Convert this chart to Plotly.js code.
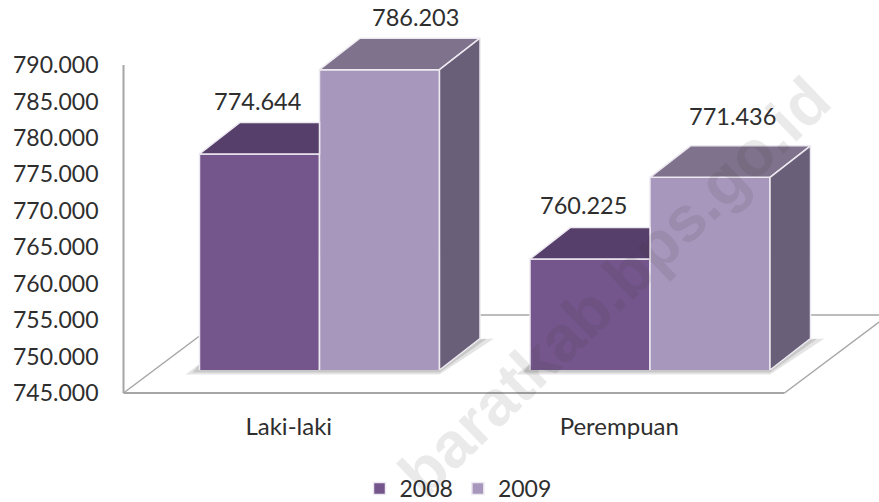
<!DOCTYPE html>
<html><head><meta charset="utf-8">
<script src="https://cdn.plot.ly/plotly-3.0.1.min.js"></script>
<style>html,body{margin:0;padding:0;background:#fff;overflow:hidden}</style></head>
<body><div id="chart" style="width:879px;height:502px"></div>
<script>
const categories = ['Laki-laki', 'Perempuan'];
const series2008 = [774.644, 760.225];
const series2009 = [786.203, 771.436];
const tickLabels = ['745.000','750.000','755.000','760.000','765.000','770.000','775.000','780.000','785.000','790.000'];
const tickValues = [745,750,755,760,765,770,775,780,785,790];

const W = 879, H = 502;
const catPx = 330.5, unitPx = 7.289;           // px per category, px per value unit
const barW = 120 / catPx;                      // one bar, in category units
const depthX = 40.5 / catPx, depthY = 31.5 / unitPx; // bar depth
const floorX = 104 / catPx, floorY = 78 / unitPx;    // floor depth
const shiftX = 30.75 / catPx, shiftY = 23 / unitPx;  // bars subplot relative to axes subplot
const Y0 = 745, Y1 = 790;
const colors = {front08:'#74568C', front09:'#A897BC', top08:'#573F6B', top09:'#7F728C', side:'#6A5F78', axis:'#A6A6A6', text:'#2E2E2E', edge:'#EDE9F1'};

// pixel frame of each subplot (extended past the axes so nothing is clipped)
const main = {left:117.5, right:879, top:58, bottom:400, x0:123.5, y0:393};
const bars = {left:main.x0 + 30.75, right:879, top:25, bottom:370};
const xRangeFrom = (f, x0) => [-0.5 - (x0 - f.left) / catPx, -0.5 + (f.right - x0) / catPx];
const yRangeFrom = (f, y0) => [Y0 - (f.bottom - y0) / unitPx, Y0 + (y0 - f.top) / unitPx];

function poly(xs, ys, color, axes, line) {
  return {x:xs, y:ys, type:'scatter', mode:'lines', fill:'toself', fillcolor:color,
    line:{width: line ? 1.5 : 0, color: line || color}, hoverinfo:'skip', showlegend:false,
    xaxis: axes[0], yaxis: axes[1]};
}
const A1 = ['x','y'], A2 = ['x2','y2'];
const traces = [];

function floorLine(xs, ys, w) {
  traces.push({x:xs, y:ys, type:'scatter', mode:'lines', line:{color:colors.axis, width:w},
    hoverinfo:'skip', showlegend:false, xaxis:'x', yaxis:'y'});
}
floorLine([-0.5, -0.5], [Y0, Y1], 2);              // value axis
floorLine([-0.5, 1.5], [Y0, Y0], 2);               // category axis
floorLine([-0.5, -0.5 + floorX], [Y0, Y0 + floorY], 1.5);
floorLine([-0.5 + floorX, 1.5 + floorX], [Y0 + floorY, Y0 + floorY], 1.5);
floorLine([1.5, 1.5 + floorX], [Y0, Y0 + floorY], 1.5);

// soft shadows on the floor, below the bars
categories.forEach((c, i) => {
  const l = i - barW + shiftX, r = i + barW + shiftX, b = Y0 + shiftY;
  [[0.16, 4.5, 14], [0.2, 2.5, 7]].forEach(([op, drop, reach]) => {
    const dp = drop / unitPx, rc = reach / catPx;
    traces.push(poly(
      [l - rc, r, r + depthX + rc, r + depthX, r, l, l],
      [b - dp, b - dp, b + depthY, b + depthY - dp * 0.2, b, b, b + 6 / unitPx],
      'rgba(90,90,90,' + op + ')', A1));
  });
});

// bars
traces.push({name:'2008', type:'bar', x:[0,1], y:series2008, width:barW, offset:-barW,
  marker:{color:colors.front08, line:{color:colors.edge, width:1.5}}, xaxis:'x2', yaxis:'y2', hoverinfo:'y'});
traces.push({name:'2009', type:'bar', x:[0,1], y:series2009, width:barW, offset:0,
  marker:{color:colors.front09, line:{color:colors.edge, width:1.5}}, xaxis:'x2', yaxis:'y2', hoverinfo:'y'});

// 3D faces from the same values
categories.forEach((c, i) => {
  const v8 = series2008[i], v9 = series2009[i];
  const l = i - barW, m = i, r = i + barW;
  traces.push(poly([l, l + depthX, m, m, l], [v8, v8 + depthY, v8 + depthY, v8, v8], colors.top08, A2, colors.edge));
  traces.push(poly([m, m + depthX, r + depthX, r, m], [v9, v9 + depthY, v9 + depthY, v9, v9], colors.top09, A2, colors.edge));
  traces.push(poly([r, r + depthX, r + depthX, r, r], [v9, v9 + depthY, Y0 + depthY, Y0, v9], colors.side, A2, colors.edge));
});

// data labels, hand-placed in the reference
const labelShift2008 = [[-2, 53], [-7, 54]];
const labelShift2009 = [[36, 53], [22, 61]];
const annotations = [];
[[series2008, labelShift2008, -0.5], [series2009, labelShift2009, 0.5]].forEach(([vals, shifts, side]) => {
  vals.forEach((v, i) => annotations.push({
    x: i + side * barW, y: v, xref:'x2', yref:'y2', text: v.toFixed(3), showarrow:false,
    xshift: shifts[i][0], yshift: shifts[i][1],
    font:{family:'Lato, sans-serif', size:23.5, color:colors.text}
  }));
});
// watermark
annotations.push({x:614/W, y:1-287/H, xref:'paper', yref:'paper', xanchor:'center', yanchor:'middle',
  text:'<b>baratkab.bps.go.id</b>', showarrow:false, textangle:-44,
  font:{family:'Liberation Sans, sans-serif', size:64, color:'rgba(50,50,50,0.1)'}});

const layout = {
  width:W, height:H, margin:{l:0,r:0,t:0,b:0,pad:0,autoexpand:false}, paper_bgcolor:'#fff', plot_bgcolor:'rgba(0,0,0,0)',
  showlegend:true, barmode:'overlay',
  legend:{orientation:'h', x:458/W, xanchor:'center', y:1-467/H, yanchor:'top', traceorder:'normal',
    font:{family:'Lato, sans-serif', size:23, color:colors.text}, bgcolor:'rgba(0,0,0,0)'},
  xaxis:{domain:[main.left/W, main.right/W], range:xRangeFrom(main, main.x0), tickvals:[0,1], ticktext:categories,
    showgrid:false, zeroline:false, showline:false, ticks:'', ticklabelstandoff:10,
    tickfont:{family:'Lato, sans-serif', size:24, color:colors.text}, anchor:'y', fixedrange:true},
  yaxis:{domain:[1-main.bottom/H, 1-main.top/H], range:yRangeFrom(main, main.y0), tickvals:tickValues, ticktext:tickLabels,
    showgrid:false, zeroline:false, showline:false, ticks:'', ticklabelstandoff:18,
    tickfont:{family:'Lato, sans-serif', size:23, color:colors.text}, anchor:'x', fixedrange:true},
  xaxis2:{domain:[bars.left/W, bars.right/W], range:xRangeFrom(bars, bars.left), visible:false, anchor:'y2', fixedrange:true},
  yaxis2:{domain:[1-bars.bottom/H, 1-bars.top/H], range:yRangeFrom(bars, bars.bottom), visible:false, anchor:'x2', fixedrange:true},
  annotations
};
Plotly.newPlot('chart', traces, layout, {displayModeBar:false, responsive:false});
</script></body></html>
